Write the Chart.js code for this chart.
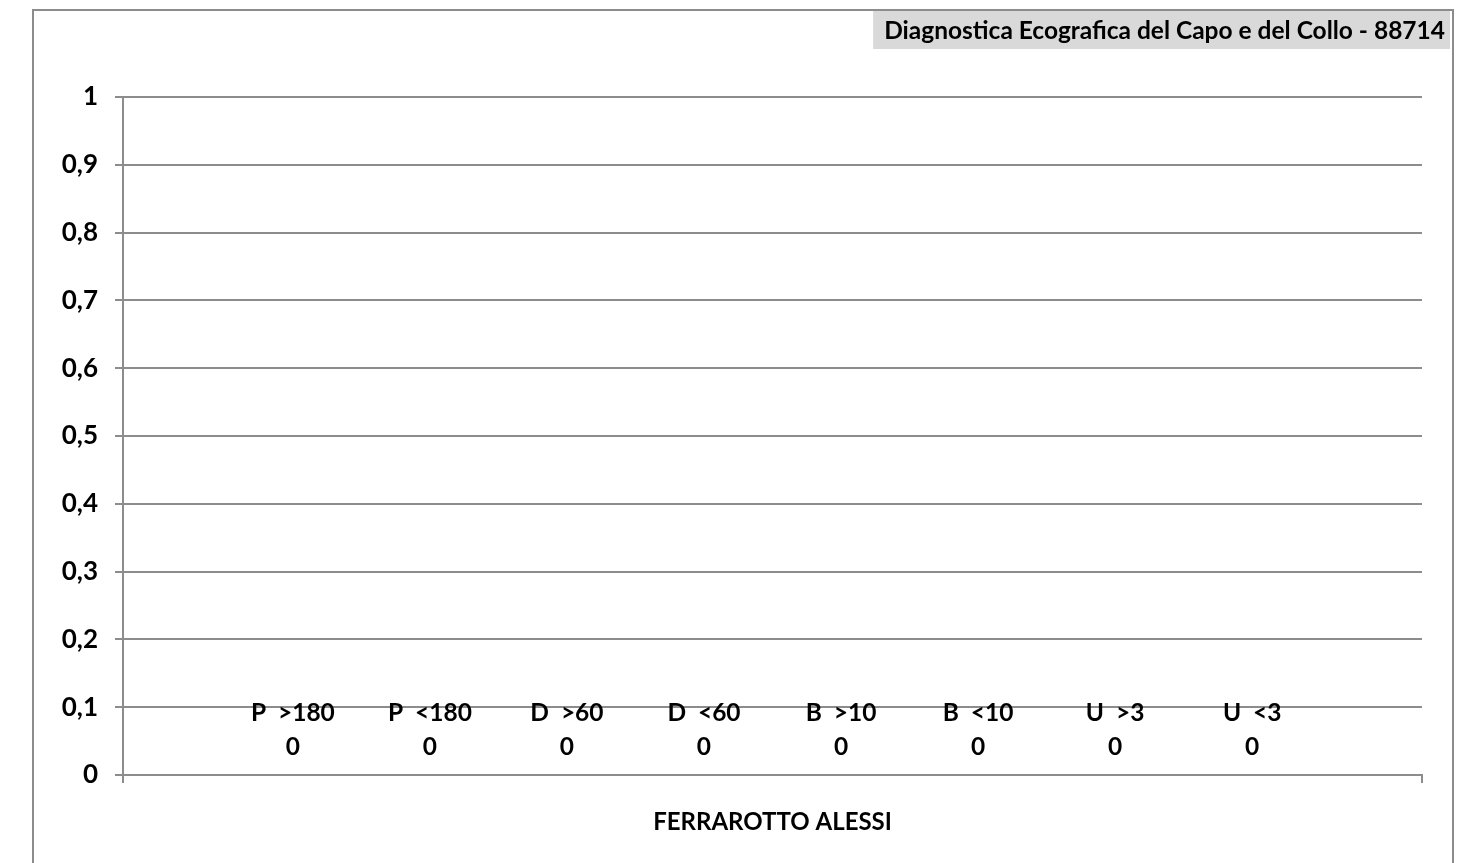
<!DOCTYPE html>
<html>
<head>
<meta charset="utf-8">
<script src="https://cdn.jsdelivr.net/npm/chart.js@4/dist/chart.umd.min.js"></script>
<style>
  html, body { margin: 0; padding: 0; background: #fff; }
  #wrap { position: relative; width: 1482px; height: 863px; overflow: hidden; }
  #frame { position: absolute; left: 32px; top: 9px; width: 1418px; height: 858px; border: 2px solid #8c8c8c; box-sizing: content-box; pointer-events: none; }
  canvas { position: absolute; left: 0; top: 0; }
</style>
</head>
<body>
<div id="wrap">
  <canvas id="c" width="1482" height="863"></canvas>
  <div id="frame"></div>
</div>
<script>
const chartTitle = 'Diagnostica Ecografica del Capo e del Collo - 88714';
const categories = ['FERRAROTTO ALESSI'];
const seriesNames = ['P  >180', 'P  <180', 'D  >60', 'D  <60', 'B  >10', 'B  <10', 'U  >3', 'U  <3'];
const seriesValues = [[0], [0], [0], [0], [0], [0], [0], [0]];
const yTicks = [0, 0.1, 0.2, 0.3, 0.4, 0.5, 0.6, 0.7, 0.8, 0.9, 1];

const FONT = 'Lato, "Open Sans", sans-serif';
const GRID = '#8c8c8c';

const titleBoxPlugin = {
  id: 'titleBox',
  afterDraw(chart) {
    const ctx = chart.ctx;
    ctx.save();
    ctx.font = 'bold 24.5px ' + FONT;
    const w = ctx.measureText(chartTitle).width;
    const right = 1450, left = right - w - 16;
    ctx.fillStyle = '#d9d9d9';
    ctx.fillRect(left, 11, right - left, 38);
    ctx.fillStyle = '#000';
    ctx.textBaseline = 'middle';
    ctx.textAlign = 'right';
    ctx.fillText(chartTitle, right - 5, 31);
    ctx.restore();
  }
};

const barLabelPlugin = {
  id: 'barLabels',
  afterDatasetsDraw(chart) {
    const ctx = chart.ctx;
    ctx.save();
    ctx.font = 'bold 24.5px ' + FONT;
    ctx.fillStyle = '#000';
    ctx.textAlign = 'center';
    ctx.textBaseline = 'middle';
    chart.data.datasets.forEach((ds, i) => {
      const meta = chart.getDatasetMeta(i);
      meta.data.forEach((bar, j) => {
        const v = ds.data[j];
        ctx.fillText(ds.label, bar.x, bar.y - 62);
        ctx.fillText(String(v).replace('.', ','), bar.x, bar.y - 28);
      });
    });
    ctx.restore();
  }
};

const palette = ['#4f81bd', '#c0504d', '#9bbb59', '#8064a2', '#4bacc6', '#f79646', '#2c4d75', '#772c2a'];

new Chart(document.getElementById('c'), {
  type: 'bar',
  data: {
    labels: categories,
    datasets: seriesNames.map((n, i) => ({
      label: n,
      data: seriesValues[i],
      backgroundColor: palette[i],
      borderWidth: 0,
      categoryPercentage: 0.844,
      barPercentage: 0.8
    }))
  },
  options: {
    responsive: false,
    animation: false,
    layout: { padding: { top: 97, right: 60, bottom: 0, left: 0 } },
    plugins: { legend: { display: false }, tooltip: { enabled: false }, title: { display: false } },
    scales: {
      x: {
        offset: true,
        grid: { display: true, drawOnChartArea: false, color: GRID, lineWidth: 2, tickLength: 8 },
        border: { display: true, color: GRID, width: 2 },
        ticks: { color: '#000', font: { family: FONT, size: 24, weight: 'bold' }, padding: 25 },
        afterFit(scale) { scale.height = 88; }
      },
      y: {
        min: 0, max: 1,
        afterBuildTicks(scale) { scale.ticks = yTicks.map(v => ({ value: v })); },
        grid: { color: GRID, lineWidth: 2, tickLength: 8 },
        border: { display: true, color: GRID, width: 2 },
        ticks: {
          color: '#000', padding: 17,
          font: { family: FONT, size: 26, weight: 'bold' },
          callback: v => String(Math.round(v * 10) / 10).replace('.', ',')
        },
        afterFit(scale) { scale.width = 123; }
      }
    }
  },
  plugins: [titleBoxPlugin, barLabelPlugin]
});
</script>
</body>
</html>
